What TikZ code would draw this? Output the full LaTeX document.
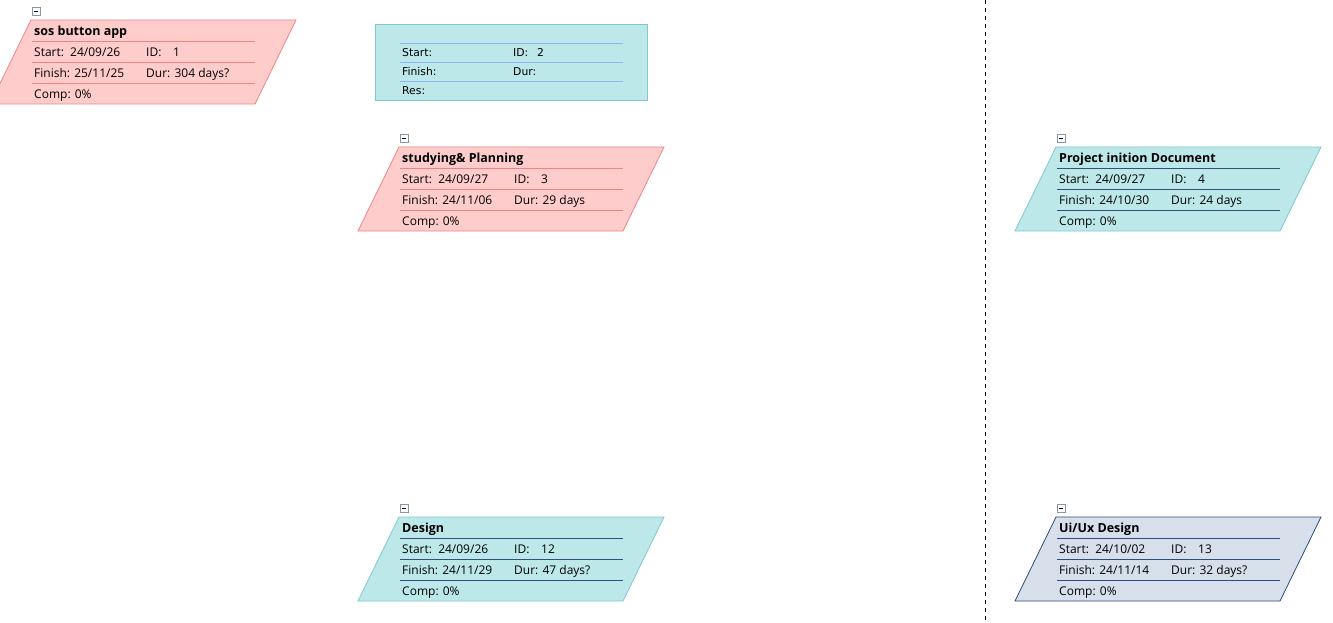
\documentclass[tikz,border=0pt]{standalone}
\usepackage{fontspec}
\setmainfont{Open Sans}
\newfontfamily\sumfont{DejaVu Sans}
\definecolor{CardPink}{HTML}{FFCCCC}
\definecolor{EdgePink}{HTML}{F08484}
\definecolor{CardTeal}{HTML}{BDE8EA}
\definecolor{EdgeTeal}{HTML}{7CC9CC}
\definecolor{RuleSky}{HTML}{8DB8EE}
\definecolor{CardSlate}{HTML}{D6DFEA}
\definecolor{EdgeNavy}{HTML}{2F4B80}
\definecolor{RuleNavy}{HTML}{34507A}
\definecolor{FoldGrey}{HTML}{8896A8}
\tikzset{
    txt/.style = {anchor=base west, inner sep=0pt, font=\fontsize{12}{14}\selectfont},
    ttl/.style = {txt, font=\fontsize{12.5}{14}\selectfont\bfseries},
    small/.style = {anchor=base west, inner sep=0pt, font=\sumfont\fontsize{10.8}{12}\selectfont},
    foldbox/.style = {draw=FoldGrey, fill=white, line width=0.8pt},
    pink card/.style = {fill=CardPink, draw=EdgePink, line width=0.8pt},
    pink rule/.style = {draw=EdgePink, line width=0.8pt},
    teal card/.style = {fill=CardTeal, draw=EdgeTeal, line width=0.8pt},
    teal rule/.style = {draw=RuleNavy, line width=0.8pt},
    slate card/.style = {fill=CardSlate, draw=EdgeNavy, line width=0.8pt},
    slate rule/.style = {draw=EdgeNavy, line width=0.8pt},
    sky rule/.style = {draw=RuleSky, line width=0.8pt}
}
\newcommand{\taskcard}[8]{%
    \begin{scope}[shift={#2}]
        \path[#3 card] (-1,0) -- (264,0) -- (223,84) -- (-42,84) -- cycle;
        \draw[foldbox] (0,-13) rectangle (8,-5);
        \draw[line width=0.8pt] (2,-9) -- (6,-9);
        \draw[#3 rule] (0,21) -- (223,21) (0,42) -- (223,42) (0,63) -- (223,63);
        \node[ttl] (#1-title) at (2,15.5) {#4};
        \node[txt] (#1-start) at (2,36.5) {Start:\ \ #5};
        \node[txt] (#1-idl) at (114,36.5) {ID:};
        \node[txt] (#1-id) at (141,36.5) {#6};
        \node[txt] (#1-finish) at (2,57.5) {Finish: #7};
        \node[txt] (#1-dur) at (114,57.5) {Dur: #8};
        \node[txt] (#1-comp) at (2,78.5) {Comp: 0\%};
    \end{scope}}

\begin{document}
\begin{tikzpicture}[x=1pt,y=-1pt]
    \useasboundingbox (0,0) rectangle (1333,623);
    \draw[dash pattern=on 4pt off 4pt, line width=0.9pt] (985,0) -- (985,623);
    \taskcard{app}{(32,20)}{pink}{sos button app}{24/09/26}{1}{25/11/25}{304 days?}
    \taskcard{plan}{(400,147)}{pink}{studying\& Planning}{24/09/27}{3}{24/11/06}{29 days}
    \taskcard{doc}{(1057,147)}{teal}{Project inition Document}{24/09/27}{4}{24/10/30}{24 days}
    \taskcard{design}{(400,517)}{teal}{Design}{24/09/26}{12}{24/11/29}{47 days?}
    \taskcard{uiux}{(1057,517)}{slate}{Ui/Ux Design}{24/10/02}{13}{24/11/14}{32 days?}
    % summary box without title
    \path[teal card] (375,24) rectangle (647,100);
    \draw[sky rule] (400,43.3) -- (623,43.3) (400,62.3) -- (623,62.3) (400,81.3) -- (623,81.3);
    \node[small] (sum-start) at (402,56.7) {Start:};
    \node[small] (sum-idl) at (513,56.7) {ID:};
    \node[small] (sum-id) at (537,56.7) {2};
    \node[small] (sum-finish) at (402,76) {Finish:};
    \node[small] (sum-dur) at (513,76) {Dur:};
    \node[small] (sum-res) at (402,95) {Res:};
\end{tikzpicture}
\end{document}
